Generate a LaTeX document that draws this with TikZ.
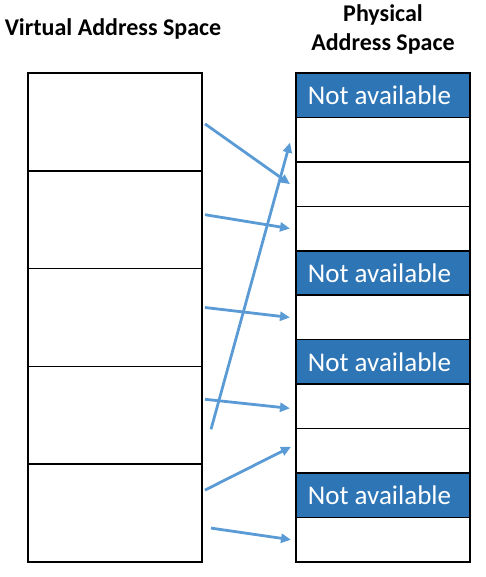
\documentclass[tikz,border=0pt]{standalone}
\usepackage{fontspec}
\setmainfont{Carlito}
\usetikzlibrary{arrows.meta,
    positioning}
\definecolor{navail}{HTML}{2E75B6}
\definecolor{arrowblue}{HTML}{5B9BD5}

\begin{document}
\begin{tikzpicture}[x=1pt,y=-1pt,
    vblock/.style={draw,line width=1.6pt,minimum width=174pt,minimum height=97.8pt,outer sep=0pt,inner sep=0pt},
    pblock/.style={draw,line width=1.6pt,minimum width=174pt,minimum height=44.45pt,outer sep=0pt,inner sep=0pt},
    busy/.style={pblock,fill=navail,text=white,font=\fontsize{27}{32}\selectfont},
    map/.style={draw=arrowblue,line width=2.8pt,-{Triangle[length=10pt,width=9pt]}},
    title/.style={font=\fontsize{24}{29}\selectfont\bfseries,align=center}]
                  \useasboundingbox (0,0) rectangle (485,577);
                  % titles
                  \node[title] (vtitle) at (113,29) {Virtual Address Space};
                  \node[title] (ptitle) at (383,29) {Physical\\Address Space};
                  % virtual pages
                  \node[vblock] (v1) at (115,121.9) {};
                  \node[vblock,below=0pt of v1] (v2) {};
                  \node[vblock,below=0pt of v2] (v3) {};
                  \node[vblock,below=0pt of v3] (v4) {};
                  \node[vblock,below=0pt of v4] (v5) {};
                  % physical frames
                  \node[busy] (p1) at (383,95.2) {\hspace*{-7pt}Not available};
                  \node[pblock,below=0pt of p1] (p2) {};
                  \node[pblock,below=0pt of p2] (p3) {};
                  \node[pblock,below=0pt of p3] (p4) {};
                  \node[busy,below=0pt of p4] (p5) {\hspace*{-7pt}Not available};
                  \node[pblock,below=0pt of p5] (p6) {};
                  \node[busy,below=0pt of p6] (p7) {\hspace*{-7pt}Not available};
                  \node[pblock,below=0pt of p7] (p8) {};
                  \node[pblock,below=0pt of p8] (p9) {};
                  \node[busy,below=0pt of p9] (p10) {\hspace*{-7pt}Not available};
                  \node[pblock,below=0pt of p10] (p11) {};
                  % mapping
                  \draw[map] ([xshift=3pt,yshift=-2pt]v1.east) -- ([xshift=-6pt]p3.west);
                  \draw[map] ([xshift=3pt,yshift=5pt]v2.east) -- ([xshift=-6pt]p4.west);
                  \draw[map] ([xshift=3pt,yshift=10pt]v3.east) -- ([xshift=-6pt]p6.west);
                  \draw[map] ([xshift=3pt,yshift=16pt]v4.east) -- ([xshift=-6pt,yshift=-2pt]p8.west);
                  \draw[map] ([xshift=9pt,yshift=-14pt]v4.east) -- ([xshift=-6pt,yshift=-3pt]p2.west);
                  \draw[map] ([xshift=3pt,yshift=23pt]v5.east) -- ([xshift=-5pt,yshift=4pt]p9.west);
                  \draw[map] ([xshift=9pt,yshift=-15pt]v5.east) -- ([xshift=-5pt]p11.west);
              \end{tikzpicture}
\end{document}
